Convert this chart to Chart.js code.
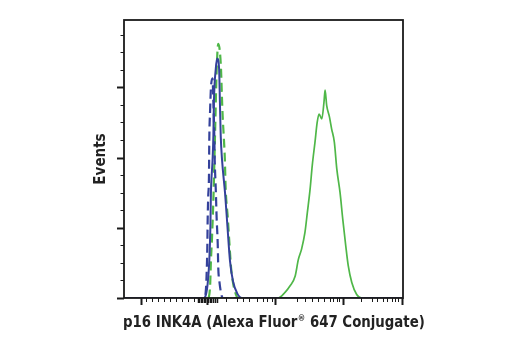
<!DOCTYPE html>
<html>
<head>
<meta charset="utf-8">
<script src="https://cdn.jsdelivr.net/npm/chart.js@4.4.1/dist/chart.umd.min.js"></script>
<style>
  body { margin: 0; background: #fff; }
</style>
</head>
<body>
<canvas id="histo" width="520" height="350"></canvas>
<script>
// fluorescence channel (0-1024) and event counts for each histogram
const posStainX = [0, 566, 591, 609, 628, 640, 652, 664, 673, 683, 691, 701, 709, 716, 726, 734, 738, 744, 754, 762, 772, 781, 793, 803, 814, 823, 836, 854, 872, 1024];
const posStainY = [0, 0, 8, 17, 31, 55, 70, 93, 122, 155, 189, 222, 250, 262, 255, 279, 296, 274, 258, 241, 222, 184, 150, 112, 74, 46, 22, 5, 0, 0];

const posIsoX = [0, 308, 316, 319, 323, 329, 334, 340, 346, 356, 359, 362, 366, 370, 373, 381, 387, 393, 401, 410, 418, 1024];
const posIsoY = [0, 0, 17, 53, 86, 153, 231, 324, 362, 327, 291, 260, 231, 199, 157, 114, 77, 43, 20, 6, 0, 0];

const negStainX = [0, 291, 297, 307, 313, 317, 319, 325, 328, 330, 337, 342, 349, 352, 355, 360, 371, 380, 389, 400, 415, 433, 1024];
const negStainY = [0, 0, 1, 20, 53, 100, 149, 196, 231, 279, 327, 341, 327, 279, 231, 196, 149, 100, 53, 24, 7, 0, 0];

const negIsoX = [0, 295, 301, 304, 306, 307, 309, 312, 313, 316, 319, 325, 328, 331, 333, 337, 340, 344, 346, 350, 358, 363, 1024];
const negIsoY = [0, 0, 14, 43, 77, 110, 143, 177, 224, 267, 299, 313, 279, 239, 196, 153, 114, 77, 43, 24, 4, 0, 0];

// axis tick positions
const xMajorTicks = [61, 305, 554, 804, 1020];
const xMinorTicks = [81, 103, 125, 147, 169, 191, 213, 235, 257, 374, 414, 438, 460, 487, 511, 526, 542,
  635, 664, 689, 713, 734, 756, 768, 781, 790, 869, 911, 930, 952, 964, 983, 995, 1007];
const xDenseTicks = [272, 277, 283, 288, 294, 299, 310, 316, 321, 327, 334, 341];
const yMajorTicks = [0, 100, 200, 300];
const yMinorTicks = [25, 50, 75, 125, 150, 175, 225, 250, 275, 325, 350, 375];

// x title, split so the ® can be set as a superscript
const xTitleParts = ['p16 INK4A (Alexa Fluor', '®', ' 647 Conjugate)'];

const GREEN = '#4fb748';
const BLUE = '#34419b';
const FONT = "'Liberation Sans Narrow', 'DejaVu Sans Condensed', sans-serif";

function pts(xs, ys) {
  return xs.map((x, i) => ({ x: x, y: ys[i] }));
}

// frame and tick marks drawn from the scales
const frameTicks = {
  id: 'frameTicks',
  afterDraw(chart) {
    const { ctx, chartArea: a, scales } = chart;
    const x = scales.x, y = scales.y;
    ctx.save();
    ctx.strokeStyle = '#1a1a1a';
    ctx.lineWidth = 1.8;
    ctx.strokeRect(a.left, a.top, a.right - a.left, a.bottom - a.top);

    const xTick = (v, len, w) => {
      const px = Math.round(x.getPixelForValue(v)) + 0.5;
      ctx.lineWidth = w;
      ctx.beginPath();
      ctx.moveTo(px, a.bottom);
      ctx.lineTo(px, a.bottom + len);
      ctx.stroke();
    };
    const yTick = (v, len, w) => {
      const py = Math.round(y.getPixelForValue(v)) + 0.5;
      ctx.lineWidth = w;
      ctx.beginPath();
      ctx.moveTo(a.left, py);
      ctx.lineTo(a.left - len, py);
      ctx.stroke();
    };
    xMajorTicks.forEach(v => xTick(v, 7, 2));
    xMinorTicks.forEach(v => xTick(v, 4, 1));
    xDenseTicks.forEach(v => xTick(v, 5, 1.5));
    yMajorTicks.forEach(v => yTick(v, 7, 2));
    yMinorTicks.forEach(v => yTick(v, 3.5, 1));

    // x axis title, slightly condensed
    ctx.fillStyle = '#222';
    ctx.textBaseline = 'alphabetic';
    ctx.textAlign = 'left';
    ctx.translate(a.left - 1, a.bottom + 29);
    ctx.scale(0.925, 1);
    let cx = 0;
    const big = 'bold 16px ' + FONT;
    const small = 'bold 9px ' + FONT;
    ctx.font = big;
    ctx.fillText(xTitleParts[0], cx, 0);
    cx += ctx.measureText(xTitleParts[0]).width + 0.5;
    ctx.font = small;
    ctx.fillText(xTitleParts[1], cx, -6);
    cx += ctx.measureText(xTitleParts[1]).width;
    ctx.font = big;
    ctx.fillText(xTitleParts[2], cx, 0);
    ctx.restore();
  }
};

new Chart(document.getElementById('histo'), {
  type: 'line',
  data: {
    datasets: [
      {
        label: 'negative cells, antibody',
        data: pts(negStainX, negStainY),
        borderColor: BLUE,
        borderWidth: 2
      },
      {
        label: 'negative cells, isotype',
        data: pts(negIsoX, negIsoY),
        borderColor: BLUE,
        borderWidth: 2.2,
        borderDash: [9, 5]
      },
      {
        label: 'positive cells, isotype',
        data: pts(posIsoX, posIsoY),
        borderColor: GREEN,
        borderWidth: 2.2,
        borderDash: [9, 5]
      },
      {
        label: 'positive cells, antibody',
        data: pts(posStainX, posStainY),
        borderColor: GREEN,
        borderWidth: 1.7
      }
    ]
  },
  options: {
    responsive: false,
    animation: false,
    devicePixelRatio: 1,
    parsing: false,
    layout: { padding: { left: 88, right: 117, top: 20, bottom: 20 } },
    elements: {
      point: { radius: 0 },
      line: { cubicInterpolationMode: 'monotone', fill: false }
    },
    plugins: {
      legend: { display: false },
      tooltip: { enabled: false }
    },
    scales: {
      x: {
        type: 'linear',
        min: 0,
        max: 1024,
        grid: { display: false, drawTicks: false },
        border: { display: false },
        ticks: { display: false },
        afterFit(scale) { scale.height = 32; }
      },
      y: {
        min: 0,
        max: 396,
        grid: { display: false, drawTicks: false },
        border: { display: false },
        ticks: { display: false },
        title: {
          display: true,
          text: 'Events',
          color: '#222',
          font: { family: FONT, size: 15, weight: 'bold' },
          padding: { top: 4, bottom: 4 }
        },
        afterFit(scale) { scale.width = 36; }
      }
    }
  },
  plugins: [frameTicks]
});
</script>
</body>
</html>
